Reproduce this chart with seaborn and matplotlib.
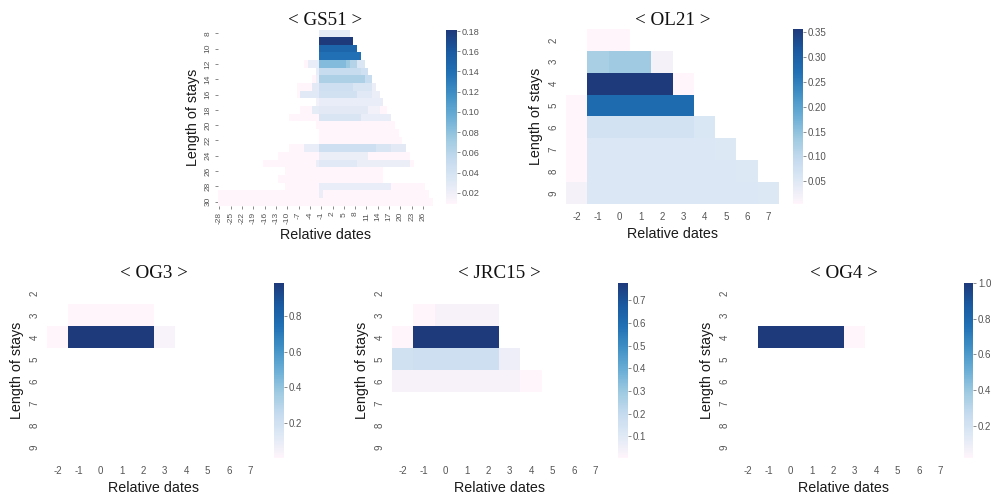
import numpy as np
import pandas as pd
import matplotlib
matplotlib.use("Agg")
import matplotlib.pyplot as plt
import matplotlib.ticker as mticker
import seaborn as sns
from matplotlib.colors import LinearSegmentedColormap

sns.set_theme(style="white")
plt.rcParams["font.family"] = ["Liberation Sans", "DejaVu Sans"]

N = np.nan

# ---------------- data ----------------
# GS51: wide window of relative dates, stays of 8..30 days
gs51_days = list(range(-28, 29))
gs51_stays = list(range(8, 31))
# uniform runs along each row: stay, first day, last day, share
gs51_stay = [8, 9, 10, 11,
             12, 12, 12, 12, 12, 12,
             13, 13, 13,
             14, 14, 14, 14,
             15, 15, 15, 15, 15,
             16, 16, 16, 16, 16,
             17, 17,
             18, 18, 18, 18, 18,
             19, 19, 19,
             20, 21, 22,
             23, 23, 23, 23, 23,
             24, 24, 24,
             25, 25, 25, 25, 25,
             26, 27,
             28, 28, 28,
             29, 29, 29,
             30]
gs51_first = [-1, -1, -1, -1,
              -5, -4, -1, 6, 7, 9,
              -2, -1, 10,
              -3, -2, -1, 11,
              -7, -3, -1, 8, 13,
              -7, -6, -1, 9, 13,
              -2, -1,
              -6, -3, -1, 12, 15,
              -9, -1, 10,
              -2, -1, -1,
              -9, -5, -1, 14, 18,
              -12, -1, 12,
              -16, -2, -1, 9, 23,
              -10, -12,
              -10, -1, 18,
              -28, -1, 0,
              -28]
gs51_last = [6, 7, 8, 9,
             -5, -2, 5, 6, 8, 10,
             -2, 9, 11,
             -3, -2, 10, 12,
             -4, -2, 7, 12, 13,
             -7, -2, 8, 12, 14,
             -2, 15,
             -4, -2, 11, 14, 16,
             -2, 9, 17,
             18, 19, 20,
             -6, -2, 13, 17, 21,
             -2, 11, 22,
             -3, -2, 8, 22, 23,
             15, 15,
             -2, 17, 26,
             -2, -1, 27,
             28]
gs51_share = [0.026, 0.181, 0.148, 0.138,
              0.009, 0.024, 0.085, 0.075, 0.062, 0.035,
              0.024, 0.050, 0.045,
              0.009, 0.020, 0.066, 0.050,
              0.009, 0.028, 0.046, 0.036, 0.022,
              0.009, 0.030, 0.042, 0.030, 0.022,
              0.018, 0.024,
              0.009, 0.026, 0.028, 0.018, 0.009,
              0.009, 0.036, 0.024,
              0.009, 0.009, 0.009,
              0.009, 0.024, 0.046, 0.036, 0.028,
              0.009, 0.022, 0.009,
              0.009, 0.022, 0.030, 0.022, 0.009,
              0.009, 0.009,
              0.009, 0.024, 0.009,
              0.009, 0.022, 0.009,
              0.009]

# Narrow window used by the other groups
days = list(range(-2, 8))
stays = list(range(2, 10))

ol21_share = [
    [N, 0.004, 0.004, N, N, N, N, N, N, N],
    [N, 0.125, 0.135, 0.135, 0.020, N, N, N, N, N],
    [N, 0.356, 0.357, 0.356, 0.356, 0.004, N, N, N, N],
    [0.004, 0.280, 0.280, 0.280, 0.280, 0.280, N, N, N, N],
    [0.004, 0.070, 0.070, 0.070, 0.070, 0.070, 0.058, N, N, N],
    [0.004, 0.056, 0.056, 0.056, 0.056, 0.056, 0.056, 0.052, N, N],
    [0.004, 0.056, 0.056, 0.056, 0.056, 0.056, 0.056, 0.056, 0.052, N],
    [0.020, 0.056, 0.056, 0.056, 0.056, 0.056, 0.056, 0.056, 0.056, 0.052],
]

og3_share = [
    [N] * 10,
    [N, 0.005, 0.005, 0.005, 0.005, N, N, N, N, N],
    [0.005, 0.985, 0.985, 0.985, 0.985, 0.035, N, N, N, N],
    [N] * 10,
    [N] * 10,
    [N] * 10,
    [N] * 10,
    [N] * 10,
]

jrc15_share = [
    [N] * 10,
    [N, 0.005, 0.030, 0.030, 0.030, N, N, N, N, N],
    [0.005, 0.775, 0.775, 0.775, 0.775, N, N, N, N, N],
    [0.160, 0.170, 0.170, 0.170, 0.170, 0.060, N, N, N, N],
    [0.030, 0.030, 0.030, 0.030, 0.030, 0.030, 0.005, N, N, N],
    [N] * 10,
    [N] * 10,
    [N] * 10,
]

og4_share = [
    [N] * 10,
    [N] * 10,
    [N, 1.0, 1.0, 1.0, 1.0, 0.02, N, N, N, N],
    [N] * 10,
    [N] * 10,
    [N] * 10,
    [N] * 10,
    [N] * 10,
]

# ---------------- build frames ----------------
gs51 = pd.DataFrame(np.nan, index=gs51_stays, columns=gs51_days)
for s, a, b, v in zip(gs51_stay, gs51_first, gs51_last, gs51_share):
    gs51.loc[s, a:b] = v

ol21 = pd.DataFrame(ol21_share, index=stays, columns=days)
og3 = pd.DataFrame(og3_share, index=stays, columns=days)
jrc15 = pd.DataFrame(jrc15_share, index=stays, columns=days)
og4 = pd.DataFrame(og4_share, index=stays, columns=days)

# pale pink low end blending into the Blues ramp
cmap = LinearSegmentedColormap.from_list(
    "pink_blues",
    ["#fff5fb", "#dfe9f5", "#c6dbef", "#9ecae1", "#6baed6",
     "#4292c6", "#2171b5", "#1a5aa0", "#1e3a7b"])

W, H = 993, 494
fig = plt.figure(figsize=(W / 100, H / 100), dpi=100)


def box(x0, y0, x1, y1):
    return [x0 / W, 1 - y1 / H, (x1 - x0) / W, (y1 - y0) / H]


# title, frame, axes box, colorbar box, x label step, y label step,
# tick size, colorbar label size, colorbar tick step, draw tick marks
panels = [
    ("< GS51 >", gs51, box(217.5, 29.5, 432.5, 205.5), box(446, 30, 457, 204), 3, 2, 6.0, 6.6, 0.02, True),
    ("< OL21 >", ol21, box(566, 29, 779, 204), box(793, 29, 803, 204), 1, 1, 7.0, 7.0, 0.05, False),
    ("< OG3 >", og3, box(47, 282, 261, 458), box(274, 283, 284, 458), 1, 1, 7.0, 7.0, 0.2, False),
    ("< JRC15 >", jrc15, box(392, 282, 606, 458), box(618, 283, 628, 458), 1, 1, 7.0, 7.0, 0.1, False),
    ("< OG4 >", og4, box(737, 282, 951, 458), box(964, 283, 973, 458), 1, 1, 7.0, 7.0, 0.2, False),
]

tick_grey = "#555555"
for title, frame, axbox, cbox, xstep, ystep, tsize, csize, cstep, marks in panels:
    ax = fig.add_axes(axbox)
    cax = fig.add_axes(cbox)
    sns.heatmap(frame, ax=ax, cbar_ax=cax, cmap=cmap,
                xticklabels=xstep, yticklabels=ystep,
                cbar_kws={"ticks": mticker.MultipleLocator(cstep)})
    ax.set_title(title, fontfamily="Liberation Serif", fontsize=13.7,
                 pad=3, color="#111111")
    ax.set_xlabel("Relative dates", fontsize=10.3, color="#1a1a1a",
                  labelpad=3 if marks else 4)
    ax.set_ylabel("Length of stays", fontsize=10.3, color="#1a1a1a",
                  labelpad=3 if marks else 4)
    if marks:
        ax.tick_params(axis="both", labelsize=tsize, labelcolor=tick_grey,
                       length=2.5, width=0.6, color="#777777", pad=2,
                       bottom=True, left=True)
        plt.setp(ax.get_xticklabels(), rotation=90)
    else:
        ax.tick_params(axis="both", labelsize=tsize, labelcolor=tick_grey,
                       length=0, pad=5.5)
        plt.setp(ax.get_xticklabels(), rotation=0)
    plt.setp(ax.get_yticklabels(), rotation=90, va="center")
    cax.tick_params(labelsize=csize, labelcolor=tick_grey, length=2.5,
                    width=0.6, color="#777777", pad=1, right=True)

fig.savefig("out.png", dpi=100)
